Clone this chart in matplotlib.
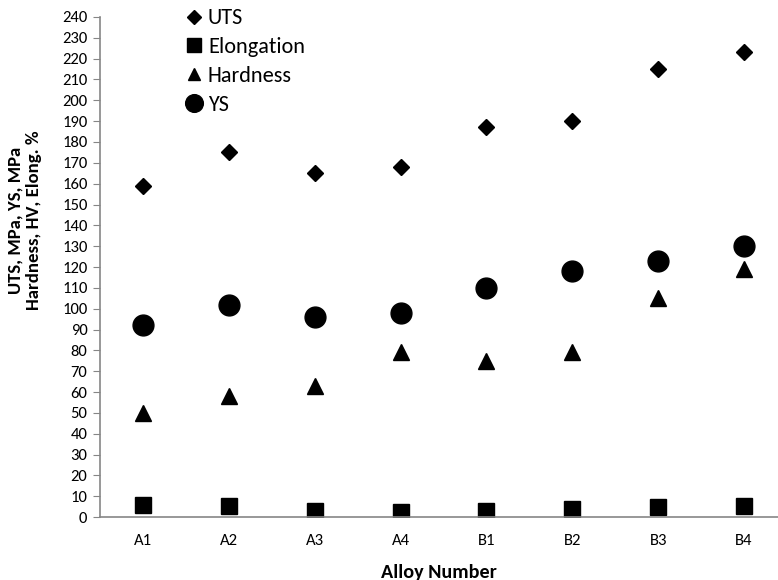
import matplotlib.pyplot as plt
import numpy as np

plt.rcParams['font.family'] = ['Carlito', 'Lato', 'DejaVu Sans']

alloys = ['A1', 'A2', 'A3', 'A4', 'B1', 'B2', 'B3', 'B4']
uts = [159, 175, 165, 168, 187, 190, 215, 223]
elongation = [6, 5.3, 3, 2.2, 3, 4, 5, 5.5]
hardness = [50, 58, 63, 79, 75, 79, 105, 119]
ys = [92, 102, 96, 98, 110, 118, 123, 130]

fig = plt.figure(figsize=(7.78, 5.8), dpi=100)
ax = fig.add_axes([0.1285, 0.1086, 0.8715, 0.8621])

x = np.arange(len(alloys))
ax.plot(x, uts, 'D', color='black', ms=8.5, ls='none', label='UTS')
ax.plot(x, elongation, 's', color='black', ms=11.5, ls='none', label='Elongation')
ax.plot(x, hardness, '^', color='black', ms=11, ls='none', label='Hardness')
ax.plot(x, ys, 'o', color='black', ms=15, ls='none', label='YS')

ax.set_ylim(0, 240)
ax.set_yticks(np.arange(0, 241, 10))
ax.set_xlim(-0.5, 7.395)
ax.set_xticks(x)
ax.set_xticklabels(alloys)

for side in ['top', 'right']:
    ax.spines[side].set_visible(False)
for side in ['left', 'bottom']:
    ax.spines[side].set_color('#868686')
    ax.spines[side].set_linewidth(1.2)
ax.tick_params(axis='y', direction='out', length=5, color='#868686',
               labelsize=12, pad=4)
ax.tick_params(axis='x', length=0, labelsize=12, pad=12)

ax.set_xlabel('Alloy Number', fontsize=14.5, fontweight='bold', labelpad=12)
ax.set_ylabel('UTS, MPa, YS, MPa\nHardness, HV, Elong. %', fontsize=13.5,
              fontweight='bold')
ax.yaxis.set_label_coords(-0.085, 0.594)

ax.legend(loc='upper left', bbox_to_anchor=(0.115, 1.035), frameon=False,
          fontsize=16, handlelength=0.6, handletextpad=0.35, labelspacing=0.4,
          markerscale=0.85, borderaxespad=0)

fig.savefig('out.png', dpi=100)
